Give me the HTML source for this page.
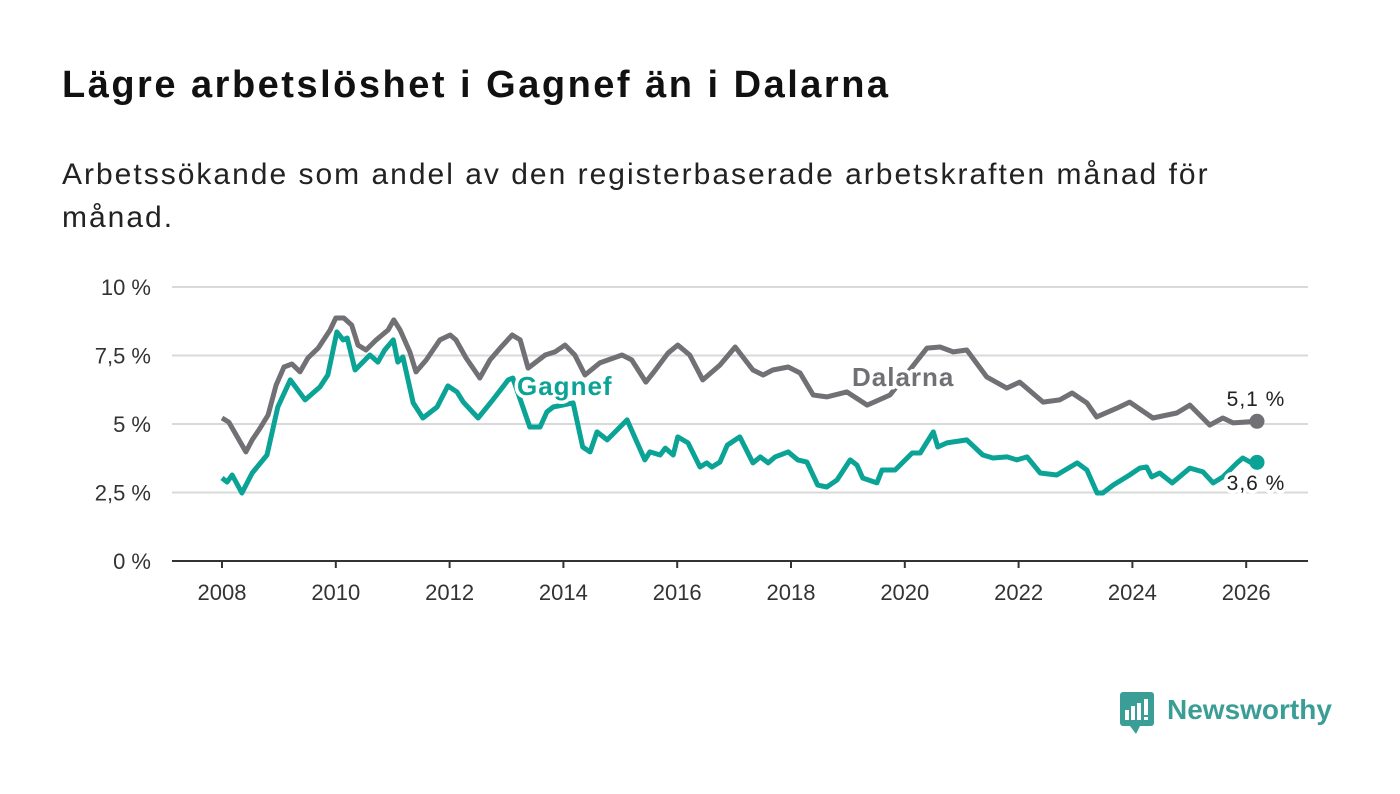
<!DOCTYPE html>
<html><head><meta charset="utf-8"><style>
body{margin:0;width:1400px;height:794px;background:#fff;font-family:"Liberation Sans",sans-serif;overflow:hidden}
#title{position:absolute;left:62px;top:64px;font-size:38px;letter-spacing:2.5px;font-weight:bold;color:#111;margin:0}
#sub{position:absolute;left:62px;top:153px;width:1185px;font-size:30px;letter-spacing:2px;line-height:43px;color:#222;margin:0}
svg{position:absolute;left:0;top:0}
</style></head><body>
<h1 id="title">Lägre arbetslöshet i Gagnef än i Dalarna</h1>
<p id="sub">Arbetssökande som andel av den registerbaserade arbetskraften månad för månad.</p>
<svg id="chart" width="1400" height="794"></svg>
<script>
const yTicks=[0,2.5,5,7.5,10];
const yTickLabels=["0 %","2,5 %","5 %","7,5 %","10 %"];
const xTicks=[2008,2010,2012,2014,2016,2018,2020,2022,2024,2026];
const dalarnaDates=[2008.0,2008.12,2008.25,2008.42,2008.53,2008.67,2008.81,2008.95,2009.09,2009.23,2009.37,2009.51,2009.69,2009.9,2010.0,2010.14,2010.28,2010.39,2010.53,2010.71,2010.92,2011.02,2011.13,2011.3,2011.41,2011.59,2011.83,2012.01,2012.11,2012.29,2012.53,2012.71,2012.89,2013.1,2013.24,2013.38,2013.68,2013.85,2014.03,2014.2,2014.38,2014.64,2015.03,2015.2,2015.45,2015.59,2015.84,2016.01,2016.22,2016.45,2016.75,2017.02,2017.33,2017.51,2017.68,2017.95,2018.16,2018.39,2018.63,2018.98,2019.34,2019.74,2020.39,2020.62,2020.85,2021.09,2021.44,2021.79,2022.02,2022.43,2022.72,2022.94,2023.2,2023.37,2023.73,2023.95,2024.36,2024.78,2025.01,2025.36,2025.59,2025.77,2026.19];
const dalarnaValues=[5.22,5.07,4.6,3.98,4.42,4.85,5.33,6.42,7.08,7.19,6.9,7.41,7.77,8.43,8.87,8.87,8.61,7.88,7.7,8.07,8.43,8.8,8.43,7.63,6.9,7.34,8.07,8.25,8.07,7.41,6.68,7.34,7.77,8.25,8.07,7.04,7.52,7.63,7.88,7.52,6.79,7.23,7.52,7.34,6.53,6.9,7.59,7.88,7.52,6.61,7.15,7.81,6.97,6.79,6.97,7.08,6.86,6.06,5.99,6.17,5.69,6.06,7.77,7.81,7.63,7.7,6.72,6.31,6.53,5.8,5.88,6.13,5.77,5.26,5.58,5.8,5.22,5.4,5.69,4.96,5.22,5.04,5.1];
const gagnefDates=[2008.0,2008.09,2008.18,2008.35,2008.53,2008.79,2008.98,2009.2,2009.46,2009.72,2009.86,2010.02,2010.13,2010.2,2010.34,2010.6,2010.74,2010.86,2011.01,2011.09,2011.18,2011.36,2011.53,2011.78,2011.97,2012.13,2012.24,2012.5,2012.76,2013.03,2013.11,2013.41,2013.59,2013.71,2013.82,2014.17,2014.34,2014.47,2014.59,2014.77,2015.12,2015.43,2015.52,2015.7,2015.79,2015.93,2016.01,2016.19,2016.4,2016.52,2016.61,2016.75,2016.88,2017.1,2017.33,2017.46,2017.6,2017.72,2017.95,2018.12,2018.28,2018.47,2018.63,2018.81,2019.04,2019.16,2019.26,2019.51,2019.6,2019.83,2020.13,2020.27,2020.5,2020.58,2020.74,2021.09,2021.37,2021.55,2021.8,2021.97,2022.15,2022.38,2022.67,2023.03,2023.2,2023.38,2023.48,2023.66,2023.95,2024.13,2024.25,2024.34,2024.48,2024.7,2025.01,2025.24,2025.42,2025.59,2025.84,2025.94,2026.07,2026.19];
const gagnefValues=[3.03,2.88,3.14,2.48,3.21,3.87,5.62,6.61,5.88,6.35,6.79,8.36,8.07,8.14,6.97,7.52,7.26,7.7,8.07,7.26,7.45,5.77,5.22,5.62,6.39,6.17,5.8,5.22,5.88,6.61,6.68,4.89,4.89,5.44,5.62,5.77,4.16,3.98,4.71,4.42,5.15,3.69,3.98,3.87,4.12,3.87,4.53,4.31,3.43,3.58,3.43,3.61,4.23,4.53,3.58,3.8,3.58,3.8,3.98,3.69,3.61,2.77,2.7,2.96,3.69,3.5,3.03,2.85,3.32,3.32,3.94,3.94,4.71,4.16,4.31,4.42,3.87,3.76,3.8,3.69,3.8,3.21,3.14,3.58,3.32,2.48,2.48,2.77,3.14,3.39,3.43,3.07,3.21,2.85,3.39,3.25,2.85,3.07,3.58,3.76,3.61,3.6];

const NS="http://www.w3.org/2000/svg";
const svg=document.getElementById('chart');
const X=d=>222+(d-2008)*56.9;
const Y=v=>561-v*27.4;
function mk(t,a,p){const e=document.createElementNS(NS,t);for(const k in a)e.setAttribute(k,a[k]);(p||svg).appendChild(e);return e;}
yTicks.forEach((v,i)=>{
  const g=mk('line',{x1:172,x2:1308,y1:Y(v),y2:Y(v),stroke:v===0?'#333':'#d9d9d9','stroke-width':2});
  
  
  const t=mk('text',{x:151,y:Y(v)+8,'text-anchor':'end','font-size':22,fill:'#333'});
  t.textContent=yTickLabels[i];
  
  
});
xTicks.forEach(d=>{
  const l=mk('line',{x1:X(d),x2:X(d),y1:561,y2:568,stroke:'#333','stroke-width':2});
  
  
  const t=mk('text',{x:X(d),y:600,'text-anchor':'middle','font-size':22,fill:'#333'});
  t.textContent=String(d);
  
  
});
function series(dates,vals,color,name){
  const d=dates.map((x,i)=>(i?'L':'M')+X(x).toFixed(1)+','+Y(vals[i]).toFixed(1)).join('');
  const p=mk('path',{d:d,fill:'none',stroke:color,'stroke-width':5,'stroke-linejoin':'round'});
  
  
  const n=dates.length-1;
  const c=mk('circle',{cx:X(dates[n]),cy:Y(vals[n]),r:7.5,fill:color});
  
  
}
series(dalarnaDates,dalarnaValues,'#717075','dalarna');
series(gagnefDates,gagnefValues,'#0ba396','gagnef');
function label(x,y,txt,color,size,weight,name,anchor){
  const t=mk('text',{x:x,y:y,'font-size':size,'font-weight':weight,fill:color,stroke:'#fff','stroke-width':7,'paint-order':'stroke','stroke-linejoin':'round','text-anchor':anchor||'start','letter-spacing':1});
  t.textContent=txt;
  
  
}
label(517,395,'Gagnef','#0ba396',26,'bold','gagnef-label');
label(852,386,'Dalarna','#717075',26,'bold','dalarna-label');
label(1256,406,'5,1 %','#222',21,'normal','dalarna-end-value','middle');
label(1256,490,'3,6 %','#222',21,'normal','gagnef-end-value','middle');
</script>
<svg width="1400" height="794" style="pointer-events:none">
 <rect x="1120" y="692" width="34" height="34" rx="3" fill="#3b9e96"/>
 <polygon points="1130,726 1140,726 1136,734" fill="#3b9e96"/>
 <rect x="1125" y="710" width="4" height="10" fill="#fff"/><rect x="1131" y="706" width="4" height="14" fill="#fff"/><rect x="1137" y="703" width="4" height="17" fill="#fff"/><rect x="1144" y="699" width="4" height="16" fill="#fff"/><rect x="1144" y="717" width="4" height="3" fill="#fff"/>
 <text x="1167" y="719" font-size="28" font-weight="bold" fill="#3b9e96" font-family="Liberation Sans, sans-serif">Newsworthy</text>
</svg>
</body></html>
